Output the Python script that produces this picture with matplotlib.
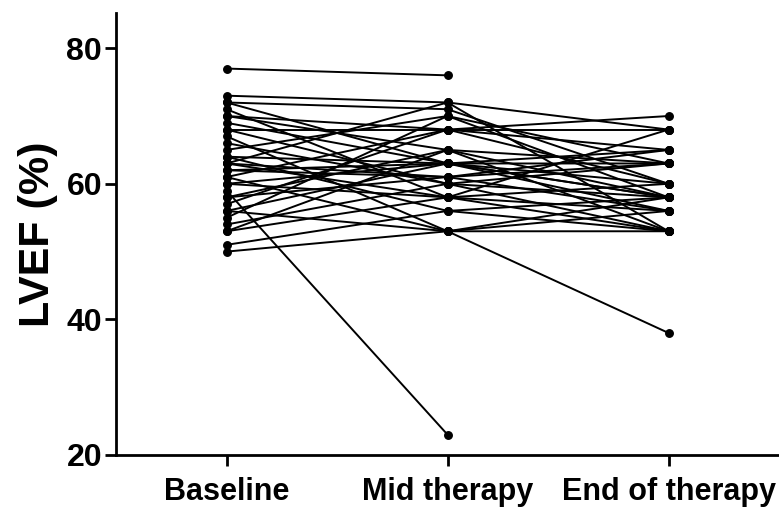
import numpy as np
import matplotlib.pyplot as plt

plt.rcParams['font.family'] = ['Liberation Sans', 'DejaVu Sans']
plt.rcParams['font.weight'] = 'bold'

timepoints = ['Baseline', 'Mid therapy', 'End of therapy']

# LVEF (%) per patient at each visit (nan = no measurement)
baseline = [77, 73, 72, 72, 71, 70, 70, 68, 68, 67, 65, 64, 64, 63, 63, 63, 62, 61,
            61, 60, 60, 59, 58, 58, 56, 56, 55, 54, 53, 53, 51, 50, 62, 66, 69, 57]
mid = [76, 72, 71, 63, 58, 68, 65, 68, 60, 53, 70, 63, 56, 72, 61, 58, 63, 68,
       53, 63, 58, 23, 65, 61, 63, 53, 70, 60, 58, 65, 56, 53, 61, 60, 63, 68]
end = [np.nan, 53, 60, 58, 56, 70, 63, 68, 53, 38, 58, 65, 53, 68, 63, 60, 56, 60,
       58, 63, 53, np.nan, 58, 65, 60, 56, 63, 58, 68, 53, 58, 53, 56, 63, 58, 65]

yticks = [20, 40, 60, 80]


def main():
    fig = plt.figure(figsize=(7.79, 5.07), dpi=100)
    ax = fig.add_axes([0.149, 0.1026, 0.851, 0.8718])

    x = np.arange(len(timepoints))
    for b, m, e in zip(baseline, mid, end):
        ax.plot(x, [b, m, e], color='black', lw=1.4, marker='o', ms=5.4,
                solid_capstyle='round')

    ax.set_xlim(-0.5, 2.5)
    ax.set_ylim(20, 85.2)
    ax.set_xticks(x)
    ax.set_xticklabels(timepoints, fontsize=22, fontweight='bold')
    ax.set_yticks(yticks)
    ax.set_yticklabels([str(t) for t in yticks], fontsize=23, fontweight='bold')
    ax.set_ylabel('LVEF (%)', fontsize=31, fontweight='bold', labelpad=6)

    ax.spines['top'].set_visible(False)
    ax.spines['right'].set_visible(False)
    for s in ['left', 'bottom']:
        ax.spines[s].set_linewidth(2.0)
    ax.tick_params(width=2.0, length=8)
    ax.tick_params(axis='x', pad=8)
    ax.tick_params(axis='y', pad=2)

    fig.savefig('out.png', dpi=100)


if __name__ == "__main__":
    main()
